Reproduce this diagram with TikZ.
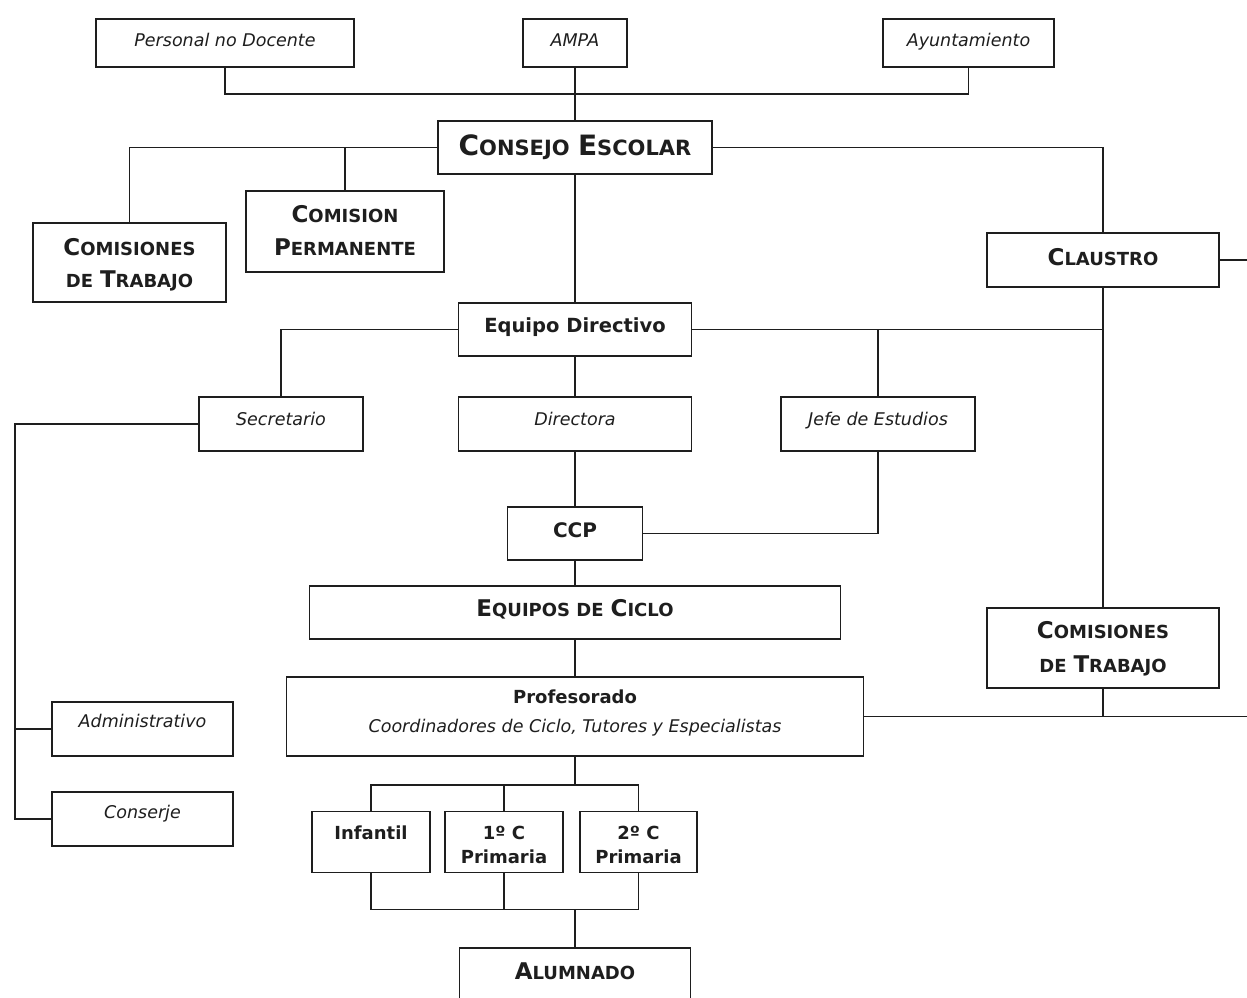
\documentclass[tikz,border=0pt]{standalone}
\usepackage{fontspec}
\setmainfont{DejaVu Sans}
\newcommand\Cbig[1]{{\fontsize{28pt}{32pt}\selectfont #1}}
\newcommand\Csm[1]{{\fontsize{21pt}{25pt}\selectfont #1}}
\newcommand\Bg[1]{{\fontsize{23pt}{27pt}\selectfont #1}}
\newcommand\Sm[1]{{\fontsize{18pt}{22pt}\selectfont #1}}
\definecolor{ink}{HTML}{1E1E1E}
\begin{document}
\begin{tikzpicture}[x=1pt,y=-1pt,
  line width=1.6pt, draw=ink,
  bx/.style 2 args={draw=ink, line width=1.6pt, fill=white, inner sep=0pt, minimum width=#1pt, minimum height=#2pt},
  tit/.style={font=\fontsize{17.5pt}{21pt}\selectfont\itshape, text=ink, inner sep=0pt, anchor=base},
  tbf/.style={font=\fontsize{#1pt}{#1pt}\selectfont\bfseries, text=ink, inner sep=0pt, anchor=base},
  tsc/.style={font=\fontsize{#1pt}{#1pt}\selectfont\bfseries, text=ink, inner sep=0pt, anchor=base}]
\useasboundingbox[fill=white] (0,0) rectangle (1247,998);

% boxes
\node[bx={258}{48}] (pnd) at (225,43) {};
\node[bx={104}{48}] (ampa) at (575,43) {};
\node[bx={171}{48}] (ayu) at (968.5,43) {};
\node[bx={274}{53}] (cons) at (575,147.5) {};
\node[bx={198}{81}] (cperm) at (345,231.5) {};
\node[bx={193}{79}] (ctl) at (129.5,262.5) {};
\node[bx={232}{54}] (cla) at (1103,260) {};
\node[bx={233}{53}] (eqd) at (575,329.5) {};
\node[bx={164}{54}] (sec) at (281,424) {};
\node[bx={233}{54}] (dir) at (575,424) {};
\node[bx={194}{54}] (jefe) at (878,424) {};
\node[bx={135}{53}] (ccp) at (575,533.5) {};
\node[bx={531}{53}] (eqc) at (575,612.5) {};
\node[bx={232}{80}] (ctr) at (1103,648) {};
\node[bx={577}{79}] (prof) at (575,716.5) {};
\node[bx={181}{54}] (adm) at (142.5,729) {};
\node[bx={181}{54}] (con) at (142.5,819) {};
\node[bx={118}{61}] (inf) at (371,842) {};
\node[bx={118}{61}] (p1) at (504,842) {};
\node[bx={117}{61}] (p2) at (638.5,842) {};
\node[bx={231}{56}] (alu) at (575,976) {};

% helper coordinates
\coordinate (top) at (575,94);
\coordinate (cre) at (1250,260);
\coordinate (pre) at (1250,716.5);
\coordinate (lx) at (15,424);
\coordinate (pb) at (575,785);
\coordinate (ab) at (575,909.5);

% connectors
\draw (pnd.south) |- (top) -| (ayu.south);
\draw (ampa.south) -- (cons.north);
\draw (cons.west) -| (ctl.north);
\draw (cperm.north) -- (cperm.north |- cons.west);
\draw (cons.east) -| (cla.north);
\draw (cla.east) -- (cre);
\draw (cons.south) -- (eqd.north);
\draw (eqd.west) -| (sec.north);
\draw (eqd.east) -- (eqd.east -| cla.south);
\draw (cla.south) -- (ctr.north);
\draw (jefe.north) -- (jefe.north |- eqd.east);
\draw (eqd.south) -- (dir.north);
\draw (dir.south) -- (ccp.north);
\draw (ccp.east) -| (jefe.south);
\draw (ccp.south) -- (eqc.north);
\draw (eqc.south) -- (prof.north);
\draw (prof.east) -- (pre);
\draw (ctr.south) -- (ctr.south |- prof.east);
\draw (sec.west) -- (lx) |- (con.west);
\draw (adm.west) -- (adm.west -| lx);
\draw (prof.south) -- (pb);
\draw (inf.north) |- (pb) -| (p2.north);
\draw (p1.north) -- (p1.north |- pb);
\draw (inf.south) |- (ab) -| (p2.south);
\draw (p1.south) -- (p1.south |- ab);
\draw (ab) -- (alu.north);

% texts
\node[tit] (tpnd) at (225,47) {Personal no Docente};
\node[tit] (tampa) at (575,47) {AMPA};
\node[tit] (tayu) at (968.5,47) {Ayuntamiento};
\node[tsc=24] (tcons) at (575,155) {\Cbig{C}\Csm{ONSEJO} \Cbig{E}\Csm{SCOLAR}};
\node[tsc=20] (tcp1) at (345,222) {\Bg{C}\Sm{OMISION}};
\node[tsc=20] (tcp2) at (345,255) {\Bg{P}\Sm{ERMANENTE}};
\node[tsc=20] (tctl1) at (129.5,255) {\Bg{C}\Sm{OMISIONES}};
\node[tsc=20] (tctl2) at (129.5,287) {\Sm{DE} \Bg{T}\Sm{RABAJO}};
\node[tsc=20] (tcla) at (1103,265) {\Bg{C}\Sm{LAUSTRO}};
\node[tbf=19.5] (teqd) at (575,332) {Equipo Directivo};
\node[tit] (tsec) at (281,425) {Secretario};
\node[tit] (tdir) at (575,425) {Directora};
\node[tit] (tjefe) at (878,425) {Jefe de Estudios};
\node[tbf=20] (tccp) at (575,537) {CCP};
\node[tsc=20] (teqc) at (575,616) {\Bg{E}\Sm{QUIPOS DE} \Bg{C}\Sm{ICLO}};
\node[tsc=20] (tctr1) at (1103,638) {\Bg{C}\Sm{OMISIONES}};
\node[tsc=20] (tctr2) at (1103,672) {\Sm{DE} \Bg{T}\Sm{RABAJO}};
\node[tbf=18] (tprof1) at (575,703) {Profesorado};
\node[tit] (tprof2) at (575,732) {Coordinadores de Ciclo, Tutores y Especialistas};
\node[tit] (tadm) at (142.5,727) {Administrativo};
\node[tit] (tcon) at (142.5,818) {Conserje};
\node[tbf=18] (tinf) at (371,839) {Infantil};
\node[tbf=18] (tp1a) at (504,839) {1º C};
\node[tbf=18] (tp1b) at (504,863) {Primaria};
\node[tbf=18] (tp2a) at (638.5,839) {2º C};
\node[tbf=18] (tp2b) at (638.5,863) {Primaria};
\node[tsc=20] (talu) at (575,979) {\Bg{A}\Sm{LUMNADO}};
\end{tikzpicture}
\end{document}
